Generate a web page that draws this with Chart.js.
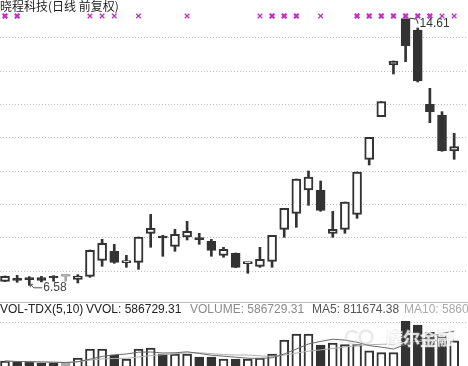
<!DOCTYPE html>
<html>
<head>
<meta charset="utf-8">
<script src="https://cdn.jsdelivr.net/npm/chart.js@4.4.1/dist/chart.umd.min.js"></script>
<style>
  html, body { margin: 0; padding: 0; background: #fff; }
  #wrap { position: relative; width: 468px; height: 366px; overflow: hidden; }
  #priceChart { position: absolute; left: 0; top: 0; }
  #volChart { position: absolute; left: 0; top: 302px; }
</style>
</head>
<body>
<div id="wrap">
  <canvas id="priceChart" width="468" height="302"></canvas>
  <canvas id="volChart" width="468" height="64"></canvas>
</div>
<script>
const title = "晓程科技(日线 前复权)";

// daily candles, oldest first
const opens  = [6.70, 6.79, 6.77, 6.81, 6.86, 6.85, 6.76, 6.85, 7.33, 7.60, 7.26, 7.27, 8.14, 8.02, 7.75, 8.03, 7.96, 7.90, 7.48, 7.54, 7.23, 7.15, 7.30, 8.26, 8.74, 9.44, 9.44, 8.14, 8.26, 8.71, 10.36, 11.64, 13.19, 14.58, 14.24, 12.01, 11.69, 10.61];
const highs  = [6.86, 6.88, 6.84, 6.85, 6.87, 6.86, 6.90, 7.64, 7.96, 7.81, 7.48, 8.03, 8.71, 8.08, 8.26, 8.50, 8.14, 7.96, 7.72, 7.55, 7.26, 7.72, 8.08, 8.89, 9.77, 10.01, 9.71, 8.80, 9.08, 9.98, 11.02, 12.09, 13.31, 14.61, 14.30, 12.49, 11.79, 11.14];
const lows   = [6.69, 6.67, 6.58, 6.68, 6.70, 6.70, 6.65, 6.82, 7.15, 7.24, 7.12, 7.06, 7.72, 7.45, 7.60, 7.94, 7.81, 7.45, 7.42, 7.11, 6.94, 7.12, 7.12, 8.02, 8.32, 8.98, 8.80, 8.02, 8.14, 8.59, 10.19, 11.64, 12.92, 13.29, 12.68, 11.46, 10.60, 10.36];
const closes = [6.85, 6.73, 6.75, 6.73, 6.80, 6.85, 6.86, 7.63, 7.84, 7.27, 7.29, 8.03, 8.29, 8.00, 8.11, 8.20, 7.95, 7.63, 7.66, 7.12, 7.25, 7.36, 8.08, 8.89, 9.77, 9.83, 8.83, 8.26, 9.08, 9.98, 11.02, 12.09, 13.31, 13.77, 12.71, 11.79, 10.62, 10.74];

const volumes = [116000, 93000, 93000, 70000, 70000, 70000, 186000, 395000, 395000, 256000, 163000, 395000, 419000, 279000, 279000, 279000, 209000, 209000, 163000, 163000, 163000, 186000, 279000, 605000, 744000, 744000, 488000, 535000, 500000, 500000, 350000, 310000, 310000, 1040000, 950000, 780000, 701500, 586729.31];

// signal marks along the top: 0 none, 1 small, 2 strong
const marks = [2, 2, 0, 0, 0, 0, 0, 1, 1, 1, 0, 1, 0, 0, 0, 1, 0, 0, 0, 0, 0, 1, 2, 2, 2, 0, 1, 0, 0, 2, 2, 2, 2, 2, 2, 2, 1, 1];

const volTexts = [
  { text: "VOL-TDX(5,10)", x: 0, color: "#222" },
  { text: "VVOL: 586729.31", x: 86, color: "#222" },
  { text: "VOLUME: 586729.31", x: 190, color: "#8a8a8a" },
  { text: "MA5: 811674.38", x: 312, color: "#555" },
  { text: "MA10: 5860", x: 404, color: "#aaa" },
];

const DARK = "#333333";
const FLAT = "#a8a8a8";
const latinFont = '"Liberation Sans", Arial, sans-serif';

const dir = (i) => (closes[i] > opens[i] ? 1 : closes[i] < opens[i] ? -1 : 0);
const bodyFill = (i) => (dir(i) > 0 ? "#ffffff" : dir(i) < 0 ? DARK : FLAT);
const lineColor = (i) => (dir(i) === 0 ? FLAT : DARK);

const idx = opens.map((_, i) => i);

const movingAvg = (n) =>
  volumes.map((v, i) => {
    const part = volumes.slice(Math.max(0, i - n + 1), i + 1);
    return part.reduce((a, b) => a + b, 0) / part.length;
  });

const xScale = {
  type: "linear",
  display: false,
  offset: false,
  min: -0.412,
  max: 38.14,
};

const priceDecor = {
  id: "priceDecor",
  afterDatasetsDraw(chart) {
    const { ctx, scales } = chart;
    const x = scales.x;
    const y = scales.y;
    ctx.save();

    ctx.font = '12px "Noto Sans CJK SC"';
    ctx.fillStyle = "#1e1e1e";
    ctx.textBaseline = "top";
    ctx.fillText(title, 0, 0);

    // highest price
    const hi = highs.indexOf(Math.max(...highs));
    const hx = x.getPixelForValue(hi);
    const hy = y.getPixelForValue(highs[hi]);
    ctx.strokeStyle = "#333";
    ctx.lineWidth = 1;
    ctx.beginPath();
    ctx.moveTo(hx + 4, hy + 0.5);
    ctx.lineTo(hx + 11, hy + 1.5);
    ctx.lineTo(hx + 12.5, hy + 6);
    ctx.stroke();
    ctx.font = "12px " + latinFont;
    ctx.fillStyle = "#333";
    ctx.textBaseline = "middle";
    ctx.fillText(highs[hi].toFixed(2), hx + 14, hy + 6);

    // lowest price
    const lo = lows.indexOf(Math.min(...lows));
    const lx = x.getPixelForValue(lo);
    const ly = y.getPixelForValue(lows[lo]);
    ctx.strokeStyle = "#555";
    ctx.beginPath();
    ctx.moveTo(lx + 1, ly - 1);
    ctx.lineTo(lx + 4.5, ly + 2.5);
    ctx.lineTo(lx + 13, ly + 2.5);
    ctx.moveTo(lx + 1, ly - 1);
    ctx.lineTo(lx + 4, ly - 1);
    ctx.moveTo(lx + 1, ly - 1);
    ctx.lineTo(lx + 1, ly + 2);
    ctx.stroke();
    ctx.fillStyle = "#444";
    ctx.fillText(lows[lo].toFixed(2), lx + 14, ly + 2);

    ctx.restore();
  },
};

const volDecor = {
  id: "volDecor",
  afterDatasetsDraw(chart) {
    const { ctx, width } = chart;
    ctx.save();

    // panel separator
    ctx.strokeStyle = "#bcbcbc";
    ctx.lineWidth = 1;
    ctx.beginPath();
    ctx.moveTo(0, 0.5);
    ctx.lineTo(width, 0.5);
    ctx.stroke();

    // watermark
    ctx.strokeStyle = "rgba(200,200,200,0.4)";
    ctx.lineWidth = 2.5;
    ctx.beginPath();
    ctx.arc(352, 35, 6, 0.6, Math.PI * 2 - 0.6);
    ctx.stroke();
    ctx.beginPath();
    ctx.arc(366, 35, 6.5, 0, Math.PI * 2);
    ctx.stroke();
    ctx.font = 'bold 17px "Noto Sans CJK SC"';
    ctx.textBaseline = "middle";
    ctx.lineWidth = 1.5;
    ctx.strokeStyle = "rgba(200,200,200,0.35)";
    ctx.strokeText("摩尔金融", 386, 37);
    ctx.fillStyle = "rgba(255,255,255,0.8)";
    ctx.fillText("摩尔金融", 386, 37);

    // header line
    ctx.font = "12px " + latinFont;
    ctx.textBaseline = "middle";
    volTexts.forEach((t) => {
      ctx.fillStyle = t.color;
      ctx.fillText(t.text, t.x, 8);
    });

    ctx.restore();
  },
};

new Chart(document.getElementById("priceChart"), {
  type: "bar",
  data: {
    datasets: [
      {
        label: "wick",
        data: idx.map((i) => ({ x: i, y: [lows[i], highs[i]] })),
        backgroundColor: idx.map(lineColor),
        barThickness: 2,
        minBarLength: 1,
        grouped: false,
        order: 3,
      },
      {
        label: "body",
        data: idx.map((i) => ({ x: i, y: [opens[i], closes[i]] })),
        backgroundColor: idx.map(bodyFill),
        borderColor: idx.map(lineColor),
        borderWidth: 2,
        borderSkipped: false,
        barThickness: 9,
        minBarLength: 2,
        grouped: false,
        order: 2,
      },
      {
        type: "scatter",
        label: "halo",
        data: idx.filter((i) => marks[i] === 2).map((i) => ({ x: i, y: 14.66 })),
        pointStyle: "rect",
        pointRadius: 3.6,
        pointBackgroundColor: "#f5cdf5",
        pointBorderWidth: 0,
        order: 1,
      },
      {
        type: "scatter",
        label: "marks",
        data: idx.filter((i) => marks[i] > 0).map((i) => ({ x: i, y: 14.66, w: marks[i] })),
        pointStyle: "crossRot",
        pointRadius: 3.2,
        pointBorderColor: "#c030c0",
        pointBorderWidth: (c) => (c.raw && c.raw.w === 2 ? 2 : 1.3),
        order: 0,
      },
    ],
  },
  options: {
    responsive: false,
    animation: false,
    events: [],
    layout: { padding: 0, autoPadding: false },
    plugins: { legend: { display: false }, tooltip: { enabled: false } },
    scales: {
      x: xScale,
      y: {
        min: 6.079,
        max: 15.14,
        ticks: { display: false, stepSize: 1 },
        afterBuildTicks: (axis) => {
          axis.ticks = axis.ticks.filter((t) => Number.isInteger(t.value) && t.value <= 14);
        },
        grid: { color: "#bdbdbd", drawTicks: false },
        border: { display: false, dash: [1, 2] },
      },
    },
  },
  plugins: [priceDecor],
});

new Chart(document.getElementById("volChart"), {
  type: "bar",
  data: {
    datasets: [
      {
        type: "line",
        label: "MA5",
        data: movingAvg(5).map((v, i) => ({ x: i, y: v })),
        borderColor: "#6a6a6a",
        borderWidth: 1,
        pointRadius: 0,
        order: 0,
      },
      {
        type: "line",
        label: "MA10",
        data: movingAvg(10).map((v, i) => ({ x: i, y: v })),
        borderColor: "#b0b0b0",
        borderWidth: 1,
        pointRadius: 0,
        order: 1,
      },
      {
        label: "VOLUME",
        data: volumes.map((v, i) => ({ x: i, y: v })),
        backgroundColor: idx.map(bodyFill),
        borderColor: idx.map(lineColor),
        borderWidth: 2,
        borderSkipped: "start",
        barThickness: 9,
        grouped: false,
        order: 2,
      },
    ],
  },
  options: {
    responsive: false,
    animation: false,
    events: [],
    layout: { padding: 0, autoPadding: false },
    plugins: { legend: { display: false }, tooltip: { enabled: false } },
    scales: {
      x: xScale,
      y: {
        min: 0,
        max: 1488000,
        ticks: { display: false },
        afterBuildTicks: (axis) => {
          axis.ticks = [{ value: 1000000 }];
        },
        grid: { color: "#bdbdbd", drawTicks: false },
        border: { display: false, dash: [1, 2] },
      },
    },
  },
  plugins: [volDecor],
});
</script>
</body>
</html>
